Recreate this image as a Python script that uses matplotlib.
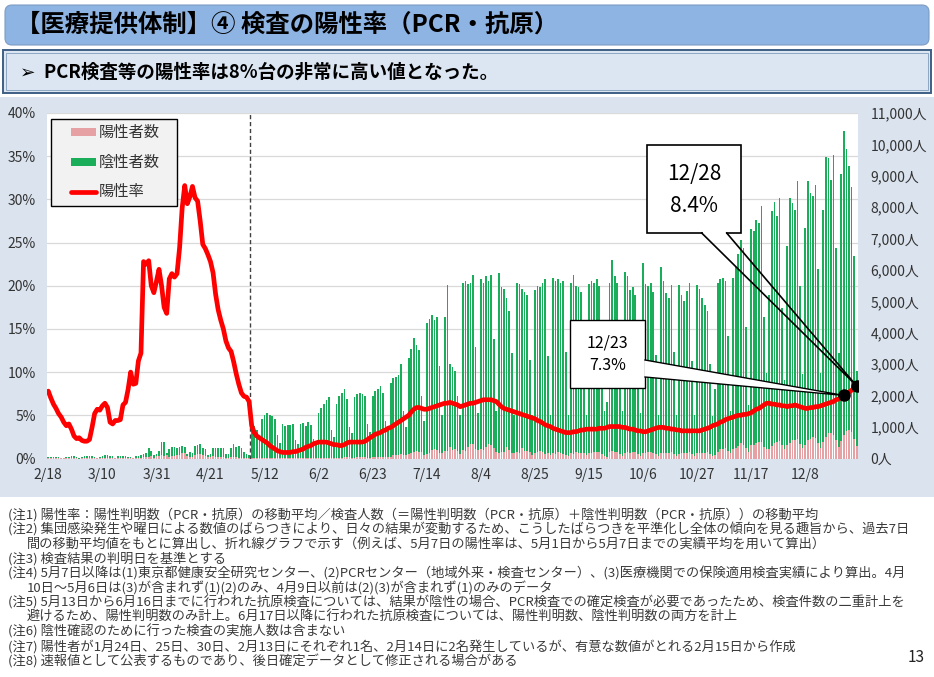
import matplotlib
matplotlib.use('Agg')
import matplotlib.pyplot as plt
from matplotlib.patches import Rectangle, FancyBboxPatch, Polygon
from matplotlib.lines import Line2D

JP = ['Noto Sans CJK JP', 'DejaVu Sans']
plt.rcParams['font.family'] = JP

# ---------------- data (daily, 2/18 .. 12/28) ----------------
x_labels = ['2/18', '3/10', '3/31', '4/21', '5/12', '6/2', '6/23', '7/14', '8/4',
            '8/25', '9/15', '10/6', '10/27', '11/17', '12/8']
label_step = 21

# 検査人数 (陽性判明数 + 陰性判明数)
tested = [
    40, 50, 45, 55, 35, 15, 30,
    60, 55, 65, 70, 50, 20, 45,
    70, 75, 80, 85, 60, 25, 60,
    90, 100, 110, 95, 70, 30, 70,
    85, 90, 70, 60, 50, 25, 80,
    90, 110, 140, 180, 320, 230, 120,
    130, 250, 520, 540, 180, 300, 360,
    380, 350, 370, 400, 380, 150, 200,
    180, 400, 420, 450, 320, 300, 120,
    140, 330, 340, 350, 330, 340, 130,
    150, 320, 450, 380, 400, 350, 200,
    140, 120,
    950, 1050, 900, 600, 1250,
    1400, 1450, 1380, 1350, 1250, 750, 500,
    1100, 1050, 1080, 1060, 1100, 600, 450,
    1100, 1120, 1050, 1150, 1080, 620, 480,
    1450, 1600, 1750, 1850, 1950, 900, 700,
    1750, 2000, 2100, 2200, 1900, 1000, 800,
    1950, 2050, 2100, 2050, 2000, 1100, 850,
    2000, 2150, 2200, 2300, 2100, 1200, 900,
    2400, 2550, 2600, 2650, 3000, 1500, 1000,
    3200, 3500, 3850, 3600, 3450, 2000, 1200,
    4300, 4450, 4580, 4400, 4500, 2950, 1400,
    4500, 5530, 3000, 2900, 2800, 2000, 1400,
    5600, 5650, 5550, 5600, 5850, 3550, 1450,
    5700, 5600, 5800, 5650, 5850, 3800, 1500,
    5900, 5450, 5400, 5100, 4700, 3350, 1400,
    5600, 5550, 5400, 5300, 5200, 3150, 1400,
    5350, 5500, 5450, 5600, 5700, 3250, 1400,
    5750, 5650, 5700, 5600, 5650, 3400, 1400,
    5600, 5850, 5500, 5450, 5300, 3300, 1400,
    5550, 5650, 5600, 5700, 5500, 3300, 1500,
    1800, 5600, 6330, 5800, 5600, 3400, 1500,
    5950, 5800, 5350, 5450, 5200, 3300, 1450,
    6230, 5550, 5500, 5600, 5300, 3300, 1400,
    6100, 5640, 5270, 5100, 5530, 3400, 1400,
    5530, 5210, 5000, 5320, 5580, 3100, 1400,
    5530, 5400, 5100, 4900, 4700, 3000, 1350,
    2200, 5600, 5700, 5750, 5650, 3900, 1500,
    5750, 6100, 6500, 6950, 6700, 4200, 1700,
    7300, 7250, 7600, 7500, 8030, 4500, 2730,
    5200, 7870, 8180, 7710, 8290, 4800, 2500,
    6760, 8290, 8130, 7900, 8830, 5490, 2700,
    7340, 8830, 8450, 8350, 8720, 6030, 2730,
    7900, 9600, 9570, 8880, 9670, 6700, 3370,
    9070, 10440, 9850, 9320, 8630, 6450, 2780,
]

# 陽性者数
positive = [
    3, 4, 3, 3, 2, 1, 2,
    3, 2, 1, 1, 1, 0, 1,
    1, 2, 3, 4, 4, 2, 4,
    6, 7, 6, 3, 2, 1, 3,
    4, 6, 8, 9, 4, 2, 8,
    10, 20, 40, 41, 63, 68, 13,
    78, 66, 97, 89, 118, 50, 80,
    90, 100, 120, 181, 189, 80, 60,
    60, 120, 140, 150, 100, 90, 40,
    40, 70, 60, 50, 50, 40, 20,
    20, 40, 50, 40, 30, 20, 10,
    10, 10,
    25, 30, 20, 15, 12,
    15, 10, 30, 10, 5, 5, 3,
    10, 11, 3, 14, 10, 10, 3,
    8, 15, 10, 20, 22, 14, 12,
    30, 30, 25, 25, 25, 15, 10,
    20, 30, 30, 40, 45, 40, 20,
    30, 40, 40, 35, 40, 30, 25,
    50, 55, 55, 55, 55, 60, 35,
    60, 100, 110, 120, 130, 110, 100,
    140, 170, 220, 240, 200, 200, 110,
    150, 160, 280, 290, 280, 190, 160,
    230, 240, 360, 260, 290, 240, 130,
    260, 250, 360, 460, 470, 290, 260,
    300, 260, 360, 460, 420, 330, 200,
    190, 220, 200, 380, 260, 160, 160,
    200, 190, 330, 250, 250, 210, 100,
    180, 220, 240, 220, 150, 160, 100,
    170, 150, 200, 180, 140, 110, 80,
    170, 150, 200, 190, 180, 160, 100,
    160, 180, 220, 200, 200, 130, 90,
    60, 200, 230, 200, 220, 150, 80,
    170, 200, 190, 210, 200, 140, 80,
    160, 180, 200, 200, 180, 130, 80,
    170, 180, 180, 190, 200, 130, 80,
    150, 160, 170, 180, 200, 140, 90,
    170, 180, 170, 190, 210, 130, 90,
    110, 200, 300, 300, 320, 250, 170,
    300, 320, 390, 500, 440, 330, 210,
    420, 430, 500, 530, 540, 380, 300,
    300, 400, 480, 540, 570, 420, 300,
    420, 500, 600, 600, 620, 450, 320,
    430, 600, 620, 700, 650, 480, 350,
    520, 680, 800, 820, 750, 580, 380,
    560, 750, 880, 900, 850, 620, 400,
]

# 陽性率 (%), 7日移動平均
rate = [
    7.8, 7.0, 6.3, 5.8, 5.2, 4.8, 4.2, 3.8, 4.0, 3.4, 2.6,
    2.3, 2.4, 2.1, 2.0, 2.0, 2.2, 3.6, 5.2, 5.7, 5.6,
    6.1, 6.4, 5.9, 4.2, 4.0, 4.4, 4.4, 4.5, 6.2, 6.5,
    8.0, 10.0, 8.6, 8.7, 11.3, 12.2, 22.8, 22.5, 22.9, 20.0,
    19.2, 20.5, 21.9, 20.0, 17.5, 16.8, 20.8, 21.4, 21.0, 21.4,
    24.4, 29.0, 31.6, 29.5, 30.3, 31.5, 30.2, 29.8, 27.5, 24.8,
    24.3, 23.6, 22.8, 21.5, 19.0, 17.2, 16.0, 15.0, 13.6, 12.8,
    12.4, 11.2, 9.8, 8.6, 7.6, 7.2, 7.1, 6.6, 3.8, 3.0,
    2.6, 2.4, 2.2, 2.0, 1.8, 1.5, 1.3, 1.1, 0.9, 0.8,
    0.7, 0.7, 0.7, 0.7, 0.8, 0.8, 0.9, 1.0, 1.1, 1.3,
    1.4, 1.5, 1.7, 1.8, 1.9, 1.9, 1.9, 1.9, 1.8, 1.7,
    1.6, 1.6, 1.5, 1.5, 1.6, 1.8, 1.9, 1.9, 1.9, 1.9,
    1.9, 1.9, 2.0, 2.2, 2.4, 2.6, 2.8, 2.9, 3.0, 3.2,
    3.3, 3.5, 3.6, 3.8, 4.0, 4.2, 4.4, 4.6, 4.8, 5.0,
    5.4, 5.7, 5.9, 5.9, 5.8, 5.7, 5.7, 5.8, 5.9, 6.0,
    6.1, 6.2, 6.3, 6.4, 6.4, 6.5, 6.4, 6.3, 6.2, 6.0,
    6.1, 6.2, 6.3, 6.4, 6.4, 6.5, 6.6, 6.7, 6.8, 6.8,
    6.8, 6.8, 6.7, 6.6, 6.3, 6.0, 5.8, 5.7, 5.6, 5.5,
    5.4, 5.3, 5.2, 5.1, 5.0, 4.9, 4.8, 4.7, 4.6, 4.4,
    4.3, 4.1, 3.9, 3.8, 3.7, 3.5, 3.4, 3.3, 3.2, 3.1,
    3.0, 3.0, 3.0, 3.1, 3.1, 3.2, 3.3, 3.3, 3.4, 3.4,
    3.4, 3.4, 3.4, 3.5, 3.5, 3.5, 3.6, 3.7, 3.7, 3.7,
    3.7, 3.7, 3.6, 3.6, 3.5, 3.4, 3.4, 3.3, 3.2, 3.2,
    3.1, 3.1, 3.2, 3.3, 3.4, 3.5, 3.6, 3.6, 3.6, 3.5,
    3.5, 3.4, 3.4, 3.3, 3.3, 3.2, 3.2, 3.2, 3.2, 3.2,
    3.2, 3.2, 3.2, 3.3, 3.4, 3.5, 3.6, 3.8, 3.9, 4.0,
    4.2, 4.3, 4.5, 4.6, 4.7, 4.8, 4.9, 5.0, 5.0, 5.1,
    5.1, 5.2, 5.3, 5.5, 5.7, 5.8, 6.0, 6.2, 6.4, 6.4,
    6.3, 6.3, 6.2, 6.2, 6.1, 6.1, 6.0, 6.1, 6.1, 6.2,
    6.1, 6.0, 5.9, 5.8, 5.8, 5.9, 5.9, 6.0, 6.0, 6.1,
    6.2, 6.3, 6.4, 6.5, 6.6, 6.8, 6.9, 7.1, 7.3, 7.5,
    7.7, 7.9, 8.1, 8.4,
]

callout_days = ['12/23', '12/28']
callout_idx = [309, 314]
split_day = 78.5  # 5/6 | 5/7 boundary

pct_ticks = [0, 5, 10, 15, 20, 25, 30, 35, 40]
people_ticks = list(range(0, 11001, 1000))

notes = [
    ('(注1) 陽性率：陽性判明数（PCR・抗原）の移動平均／検査人数（＝陽性判明数（PCR・抗原）＋陰性判明数（PCR・抗原））の移動平均', 0),
    ('(注2) 集団感染発生や曜日による数値のばらつきにより、日々の結果が変動するため、こうしたばらつきを平準化し全体の傾向を見る趣旨から、過去7日', 0),
    ('間の移動平均値をもとに算出し、折れ線グラフで示す（例えば、5月7日の陽性率は、5月1日から5月7日までの実績平均を用いて算出）', 1),
    ('(注3) 検査結果の判明日を基準とする', 0),
    ('(注4) 5月7日以降は(1)東京都健康安全研究センター、(2)PCRセンター（地域外来・検査センター）、(3)医療機関での保険適用検査実績により算出。4月', 0),
    ('10日～5月6日は(3)が含まれず(1)(2)のみ、4月9日以前は(2)(3)が含まれず(1)のみのデータ', 1),
    ('(注5) 5月13日から6月16日までに行われた抗原検査については、結果が陰性の場合、PCR検査での確定検査が必要であったため、検査件数の二重計上を', 0),
    ('避けるため、陽性判明数のみ計上。6月17日以降に行われた抗原検査については、陽性判明数、陰性判明数の両方を計上', 1),
    ('(注6) 陰性確認のために行った検査の実施人数は含まない', 0),
    ('(注7) 陽性者が1月24日、25日、30日、2月13日にそれぞれ1名、2月14日に2名発生しているが、有意な数値がとれる2月15日から作成', 0),
    ('(注8) 速報値として公表するものであり、後日確定データとして修正される場合がある', 0),
]

# ---------------- figure ----------------
W, H = 934, 677
fig = plt.figure(figsize=(W / 100, H / 100), dpi=100)
fig.patch.set_facecolor('white')

bg = fig.add_axes([0, 0, 1, 1], zorder=0)
bg.set_xlim(0, W)
bg.set_ylim(H, 0)
bg.axis('off')

# header bar
bg.add_patch(FancyBboxPatch((5, 5), 924, 40, boxstyle='round,pad=0,rounding_size=7',
                            fc='#8EB4E3', ec='#7C9CC4', lw=0.8))
bg.text(16, 25, '【医療提供体制】④ 検査の陽性率（PCR・抗原）', fontsize=17.6, fontweight='bold',
        va='center', ha='left', color='black')

# subtitle box
bg.add_patch(Rectangle((3, 50), 928, 43, fc='#DCE6F2', ec='#3F5F86', lw=1.4))
bg.add_patch(Rectangle((6, 53), 922, 37, fc='none', ec='#8CA5C2', lw=0.7))
bg.text(20, 72, '➢  PCR検査等の陽性率は8%台の非常に高い値となった。', fontsize=13.3, fontweight='bold',
        va='center', ha='left', color='black', family=JP)

# chart panel
bg.add_patch(Rectangle((0, 97), W, 400, fc='#DAE3EE', ec='none'))

# notes
y0, dy = 515, 14.6
for i, (t, indent) in enumerate(notes):
    bg.text(8 + indent * 19, y0 + i * dy, t, fontsize=9.5, va='center', ha='left', color='#3A3A3A')
bg.text(925, 657, '13', fontsize=11, va='center', ha='right', color='#222222')

# ---------------- chart axes ----------------
L, R, T, B = 47, 858, 113, 458.5
rect = [L / W, 1 - B / H, (R - L) / W, (B - T) / H]
ax = fig.add_axes(rect, zorder=1)
ax.set_facecolor('white')
days = list(range(len(tested)))
negative = [t - p for t, p in zip(tested, positive)]

ax.set_xlim(-0.5, len(days) - 0.5)
ax.set_ylim(0, 11000)
for p in pct_ticks:
    ax.axhline(p / 40 * 11000, color='#D9D9D9', lw=0.9, zorder=0)
ax.bar(days, positive, width=0.64, color='#E6A1A4', zorder=2, linewidth=0)
ax.bar(days, negative, bottom=positive, width=0.64, color='#1AAE5A', zorder=2, linewidth=0)
ax.axvline(split_day, color='#404040', lw=1.0, ls=(0, (3, 2)), zorder=3)

ax2 = ax.twinx()
ax2.set_zorder(2)
ax2.patch.set_visible(False)
ax2.set_ylim(0, 40)
ax2.set_xlim(-0.5, len(days) - 0.5)
ax2.plot(days, rate, color='#FF0000', lw=3.4, solid_joinstyle='round', solid_capstyle='round', zorder=3)
ax2.plot([callout_idx[0], callout_idx[1]], [rate[callout_idx[0]], rate[callout_idx[1]]],
         ls='none', marker='o', ms=8, color='black', zorder=6)

# people axis on the right (bars), percent axis on the left (line)
ax.yaxis.tick_right()
ax.yaxis.set_label_position('right')
ax.set_yticks(people_ticks)
ax.set_yticklabels([f'{v:,}人' for v in people_ticks])
ax.set_xticks(list(range(0, len(days), label_step)))
ax.set_xticklabels(x_labels)
ax.tick_params(axis='both', length=0, labelsize=10, colors='#333333')
ax.tick_params(axis='y', pad=9, labelleft=False, labelright=True)
ax.tick_params(axis='x', pad=7)
for s in ax.spines.values():
    s.set_visible(False)

ax2.yaxis.tick_left()
ax2.yaxis.set_label_position('left')
ax2.set_yticks(pct_ticks)
ax2.set_yticklabels([f'{v}%' for v in pct_ticks])
ax2.tick_params(axis='both', length=0, labelsize=10, colors='#333333')
ax2.tick_params(axis='y', pad=8, labelleft=True, labelright=False)
ax2.tick_params(axis='x', labelbottom=False)
for s in ax2.spines.values():
    s.set_visible(False)

# ---------------- overlay: legend + callouts ----------------
top = fig.add_axes([0, 0, 1, 1], zorder=5)
top.set_xlim(0, W)
top.set_ylim(H, 0)
top.axis('off')
top.patch.set_visible(False)

# legend
top.add_patch(Rectangle((51, 119), 126, 87, fc='#F2F2F2', ec='black', lw=1.0))
top.add_patch(Rectangle((71, 128), 25, 8, fc='#E6A1A4', ec='none'))
top.add_patch(Rectangle((71, 158), 25, 8, fc='#1AAE5A', ec='none'))
top.add_line(Line2D([71, 96], [191.5, 191.5], color='#FF0000', lw=3.4, solid_capstyle='round'))
for yy, t in zip([132, 162, 191.5], ['陽性者数', '陰性者数', '陽性率']):
    top.text(99, yy, t, fontsize=11, va='center', ha='left', color='#333333')

def data_px(i):
    xd, yd = ax2.transData.transform((i, rate[i]))
    return xd, H - yd

# 12/23 callout (wedge from right side, white fill)
px, py = data_px(callout_idx[0])
top.add_patch(Rectangle((570, 320), 75, 68, fc='white', ec='black', lw=1.0, zorder=2))
top.add_patch(Polygon([(644.5, 360), (px, py), (644.5, 377)], closed=True, fc='white', ec='none', zorder=3))
top.add_line(Line2D([645, px, 645], [360, py, 377], color='black', lw=1.0, zorder=4))
top.text(607.5, 343, callout_days[0], fontsize=11.5, ha='center', va='center', zorder=5)
top.text(607.5, 366, f'{rate[callout_idx[0]]:.1f}%', fontsize=11.5, ha='center', va='center', zorder=5)

# 12/28 callout (wedge from bottom)
px, py = data_px(callout_idx[1])
top.add_patch(Rectangle((647, 145), 94, 88, fc='white', ec='black', lw=1.2, zorder=2))
top.add_patch(Rectangle((702.5, 231.5), 23.5, 3, fc='white', ec='none', zorder=3))
top.add_line(Line2D([701.7, px, 726.7], [233, py, 233], color='black', lw=1.2, zorder=4))
top.text(694, 174, callout_days[1], fontsize=15, ha='center', va='center', zorder=5)
top.text(694, 206, f'{rate[callout_idx[1]]:.1f}%', fontsize=15, ha='center', va='center', zorder=5)

fig.savefig('out.png', dpi=100)
